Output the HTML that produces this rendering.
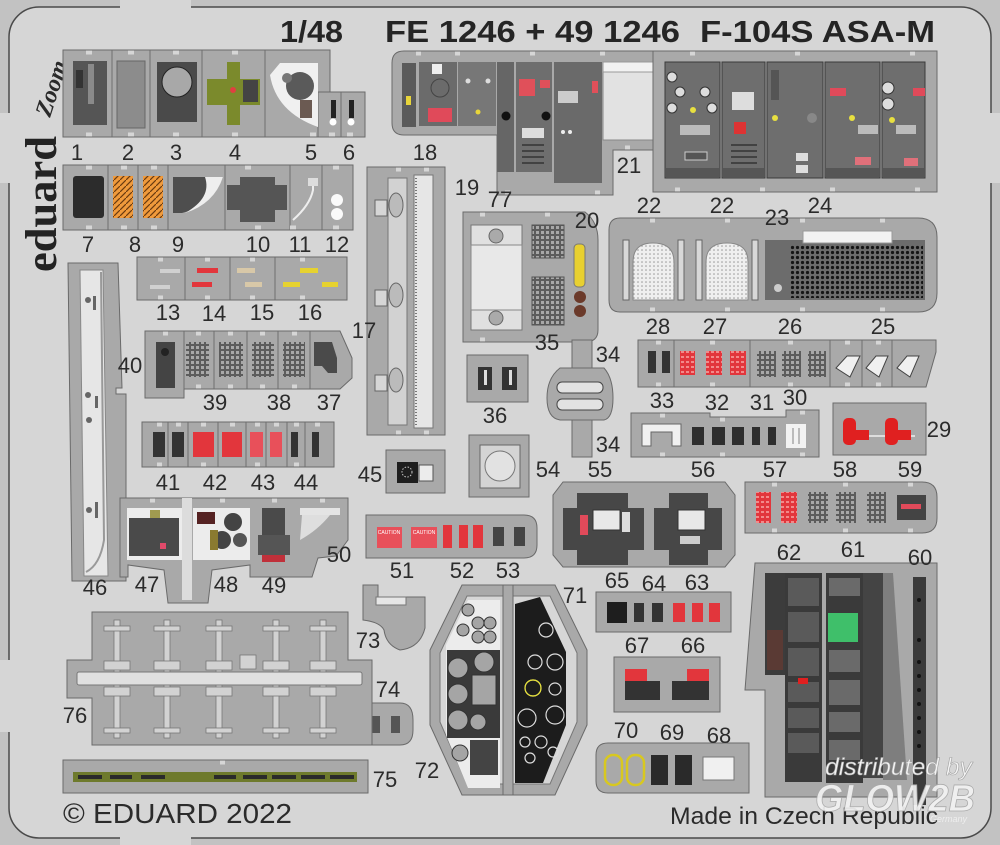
<!DOCTYPE html>
<html><head><meta charset="utf-8"><style>
html,body{margin:0;padding:0;background:#d6d6d6;}
svg{display:block}
.f{fill:#a9a9a9;stroke:#6a6a6a;stroke-width:1}
.t{font-family:"Liberation Sans",Arial,sans-serif;font-size:22px;fill:#2b2b2b;text-anchor:middle}
.d{fill:#505050}
.k{fill:#2e2e2e}
.r{fill:#e2363c}
.w{fill:#e8e8e8;stroke:#777;stroke-width:.8}
.sep{stroke:#6e6e6e;stroke-width:1}
.n{fill:#d6d6d6}
</style></head><body>
<svg width="1000" height="845" viewBox="0 0 1000 845" xmlns="http://www.w3.org/2000/svg">
<defs>
<pattern id="grid" width="5" height="5" patternUnits="userSpaceOnUse"><rect width="5" height="5" fill="#5c5c5c"/><rect x="1" y="1" width="3" height="3" fill="#a8a8a8"/></pattern>
<pattern id="rgrid" width="5" height="5" patternUnits="userSpaceOnUse"><rect width="5" height="5" fill="#e2363c"/><rect x="1" y="1" width="3" height="2" fill="#f28a8a"/></pattern>
<pattern id="dots" width="5" height="5" patternUnits="userSpaceOnUse"><rect width="5" height="5" fill="#6c6c6c"/><circle cx="2.5" cy="2.5" r="1.6" fill="#151515"/></pattern>
<pattern id="wdots" width="4" height="4" patternUnits="userSpaceOnUse"><rect width="4" height="4" fill="#efefef"/><circle cx="2" cy="2" r=".8" fill="#999"/></pattern>
<pattern id="orng" width="6" height="6" patternUnits="userSpaceOnUse"><rect width="6" height="6" fill="#f09a3c"/><path d="M0,6 L6,0" stroke="#6a3a10" stroke-width="1.2"/></pattern>
</defs>

<!-- fret frame -->
<rect width="1000" height="845" fill="#c2c2c2"/>
<rect x="9" y="7" width="982" height="831" rx="30" fill="#d6d6d6" stroke="#4a4a4a" stroke-width="1.5"/>
<rect x="120" y="0" width="71" height="9" fill="#d6d6d6"/>
<rect x="120" y="836" width="71" height="9" fill="#d6d6d6"/>
<rect x="0" y="113" width="10" height="70" fill="#d6d6d6"/>
<rect x="0" y="660" width="10" height="72" fill="#d6d6d6"/>
<rect x="990" y="113" width="10" height="70" fill="#d6d6d6"/>

<!-- title -->
<g font-family="Liberation Sans,Arial,sans-serif" font-weight="bold" font-size="31" fill="#252525">
<text x="280" y="42" textLength="63" lengthAdjust="spacingAndGlyphs">1/48</text>
<text x="385" y="42" textLength="295" lengthAdjust="spacingAndGlyphs">FE 1246 + 49 1246</text>
<text x="700" y="42" textLength="235" lengthAdjust="spacingAndGlyphs">F-104S ASA-M</text>
</g>

<!-- eduard logo -->
<text transform="translate(56,272) rotate(-90)" font-family="Liberation Serif,serif" font-weight="bold" font-size="44" textLength="136" lengthAdjust="spacingAndGlyphs" fill="#232323">eduard</text>
<text transform="translate(50,118) rotate(-72)" font-family="Liberation Serif,serif" font-style="italic" font-weight="bold" font-size="24" fill="#2a2a2a">Zoom</text>

<!-- Row 1: parts 1-6 -->
<rect class="f" x="63" y="50" width="267" height="87"/>
<rect class="f" x="318" y="92" width="47" height="45"/>
<g class="sep"><line x1="112" y1="50" x2="112" y2="137"/><line x1="150" y1="50" x2="150" y2="137"/><line x1="202" y1="50" x2="202" y2="137"/><line x1="265" y1="50" x2="265" y2="137"/><line x1="341" y1="92" x2="341" y2="137"/></g>
<g class="n"><rect x="86" y="50.5" width="6" height="4"/><rect x="128" y="50.5" width="6" height="4"/><rect x="173" y="50.5" width="6" height="4"/><rect x="232" y="50.5" width="6" height="4"/><rect x="86" y="132.5" width="6" height="4"/><rect x="128" y="132.5" width="6" height="4"/><rect x="173" y="132.5" width="6" height="4"/><rect x="232" y="132.5" width="6" height="4"/><rect x="310" y="132.5" width="6" height="4"/><rect x="329" y="132.5" width="6" height="4"/><rect x="347" y="132.5" width="6" height="4"/></g>
<rect x="73" y="61" width="34" height="64" fill="#555"/><rect x="88" y="64" width="6" height="40" fill="#8a8a8a"/><rect x="76" y="70" width="7" height="18" fill="#333"/>
<rect x="117" y="61" width="28" height="67" fill="#8c8c8c" stroke="#666"/>
<rect x="157" y="62" width="40" height="60" fill="#4a4a4a"/><circle cx="177" cy="82" r="15" fill="#a8a8a8" stroke="#222"/>
<rect x="227" y="62" width="13" height="63" fill="#7b8a2c"/><rect x="207" y="79" width="53" height="26" fill="#7b8a2c"/><rect x="243" y="80" width="15" height="22" fill="#444"/><circle cx="233" cy="90" r="3" fill="#e04040"/>
<path d="M280,63 L318,63 L318,127 Q276,112 270,75 Z" fill="#f0f0f0"/><circle cx="300" cy="86" r="14" fill="#5a5a5a"/><circle cx="287" cy="78" r="5" fill="#777"/><rect x="300" y="100" width="12" height="18" fill="#6b5a52"/>
<rect x="331" y="100" width="5" height="18" fill="#222"/><rect x="349" y="100" width="5" height="18" fill="#222"/><circle cx="333" cy="122" r="3.5" fill="#fff"/><circle cx="351" cy="122" r="3.5" fill="#fff"/>

<!-- Row 2: parts 7-12 -->
<rect class="f" x="63" y="165" width="290" height="65"/>
<g class="sep"><line x1="108" y1="165" x2="108" y2="230"/><line x1="138" y1="165" x2="138" y2="230"/><line x1="168" y1="165" x2="168" y2="230"/><line x1="225" y1="165" x2="225" y2="230"/><line x1="290" y1="165" x2="290" y2="230"/><line x1="322" y1="165" x2="322" y2="230"/></g>
<g class="n"><rect x="86" y="165.5" width="6" height="4"/><rect x="121" y="165.5" width="6" height="4"/><rect x="151" y="165.5" width="6" height="4"/><rect x="245" y="165.5" width="6" height="4"/><rect x="333" y="165.5" width="6" height="4"/><rect x="86" y="225.5" width="6" height="4"/><rect x="121" y="225.5" width="6" height="4"/><rect x="151" y="225.5" width="6" height="4"/><rect x="255" y="225.5" width="6" height="4"/><rect x="290" y="225.5" width="6" height="4"/><rect x="333" y="225.5" width="6" height="4"/></g>
<rect x="73" y="176" width="31" height="42" rx="3" fill="#2c2c2c"/>
<rect x="113" y="176" width="20" height="42" fill="url(#orng)"/><rect x="143" y="176" width="20" height="42" fill="url(#orng)"/>
<path d="M173,177 L223,177 Q212,206 182,213 L173,213 Z" fill="#4e4e4e"/><path d="M205,177 L223,177 Q214,204 185,213 Q212,198 205,177 Z" fill="#eeeeee"/>
<rect x="240" y="177" width="35" height="45" fill="#555"/><rect x="227" y="185" width="60" height="25" fill="#555"/>
<path d="M313,178 L313,190 Q310,205 293,220" stroke="#eee" stroke-width="2" fill="none"/><rect x="308" y="178" width="10" height="8" fill="#ddd"/>
<circle cx="337" cy="200" r="6" fill="#fafafa"/><circle cx="337" cy="214" r="6" fill="#fafafa"/>

<!-- Row 13-16 -->
<rect class="f" x="137" y="257" width="210" height="43"/>
<g class="sep"><line x1="185" y1="257" x2="185" y2="300"/><line x1="230" y1="257" x2="230" y2="300"/><line x1="275" y1="257" x2="275" y2="300"/></g>
<g class="n"><rect x="158" y="257.5" width="5" height="4"/><rect x="205" y="257.5" width="5" height="4"/><rect x="250" y="257.5" width="5" height="4"/><rect x="300" y="257.5" width="5" height="4"/><rect x="158" y="295.5" width="5" height="4"/><rect x="205" y="295.5" width="5" height="4"/><rect x="250" y="295.5" width="5" height="4"/><rect x="300" y="295.5" width="5" height="4"/></g>
<rect x="150" y="285" width="20" height="4" fill="#d0d0d0"/><rect x="160" y="269" width="20" height="4" fill="#d0d0d0"/>
<rect x="197" y="268" width="21" height="5" class="r"/><rect x="192" y="282" width="20" height="5" class="r"/>
<rect x="237" y="268" width="18" height="5" fill="#d8c8a8"/><rect x="245" y="282" width="17" height="5" fill="#d8c8a8"/>
<rect x="283" y="282" width="17" height="5" fill="#e6d230"/><rect x="300" y="268" width="18" height="5" fill="#e6d230"/><rect x="322" y="282" width="16" height="5" fill="#e6d230"/>

<!-- Row 37-40 -->
<polygon class="f" points="145,331 340,331 352,358 352,378 340,389 184,389 184,398 145,398"/>
<g class="sep"><line x1="184" y1="331" x2="184" y2="389"/><line x1="214" y1="331" x2="214" y2="389"/><line x1="247" y1="331" x2="247" y2="389"/><line x1="278" y1="331" x2="278" y2="389"/><line x1="310" y1="331" x2="310" y2="389"/></g>
<g class="n"><rect x="163" y="331.5" width="5" height="4"/><rect x="196" y="331.5" width="5" height="4"/><rect x="228" y="331.5" width="5" height="4"/><rect x="260" y="331.5" width="5" height="4"/><rect x="292" y="331.5" width="5" height="4"/><rect x="196" y="384.5" width="5" height="4"/><rect x="228" y="384.5" width="5" height="4"/><rect x="260" y="384.5" width="5" height="4"/><rect x="292" y="384.5" width="5" height="4"/></g>
<rect x="156" y="342" width="19" height="46" fill="#444"/><circle cx="165" cy="352" r="4" fill="#222"/>
<rect x="186" y="342" width="23" height="35" fill="url(#grid)"/><rect x="219" y="342" width="24" height="35" fill="url(#grid)"/>
<rect x="252" y="342" width="22" height="35" fill="url(#grid)"/><rect x="283" y="342" width="22" height="35" fill="url(#grid)"/>
<path d="M314,342 L332,342 L337,358 L337,373 L328,373 L322,366 L314,366 Z" fill="#4a4a4a"/>

<!-- Row 41-44 -->
<rect class="f" x="142" y="422" width="192" height="45"/>
<g class="sep"><line x1="168" y1="422" x2="168" y2="467"/><line x1="188" y1="422" x2="188" y2="467"/><line x1="218" y1="422" x2="218" y2="467"/><line x1="246" y1="422" x2="246" y2="467"/><line x1="266" y1="422" x2="266" y2="467"/><line x1="287" y1="422" x2="287" y2="467"/><line x1="305" y1="422" x2="305" y2="467"/></g>
<g class="n"><rect x="157" y="422.5" width="5" height="4"/><rect x="176" y="422.5" width="5" height="4"/><rect x="201" y="422.5" width="5" height="4"/><rect x="230" y="422.5" width="5" height="4"/><rect x="255" y="422.5" width="5" height="4"/><rect x="274" y="422.5" width="5" height="4"/><rect x="294" y="422.5" width="5" height="4"/><rect x="315" y="422.5" width="5" height="4"/><rect x="157" y="462.5" width="5" height="4"/><rect x="201" y="462.5" width="5" height="4"/><rect x="255" y="462.5" width="5" height="4"/><rect x="294" y="462.5" width="5" height="4"/></g>
<rect x="153" y="432" width="12" height="25" fill="#333"/><rect x="172" y="432" width="12" height="25" fill="#333"/>
<rect x="193" y="432" width="21" height="25" class="r"/><rect x="222" y="432" width="20" height="25" class="r"/>
<rect x="250" y="432" width="13" height="25" fill="#e8505a"/><rect x="270" y="432" width="12" height="25" fill="#e8505a"/>
<rect x="291" y="432" width="7" height="25" fill="#333"/><rect x="312" y="432" width="7" height="25" fill="#333"/>

<!-- Part 46 -->
<polygon class="f" points="68,263 118,263 122,388 116,388 116,394 126,394 126,581 72,581"/>
<polygon points="80,270 103,270 108,576 84,576" fill="#e6e6e6" stroke="#888"/>
<path d="M101,272 L104,540 Q100,565 86,572" stroke="#999" stroke-width="2" fill="none"/>
<circle cx="88" cy="300" r="3" fill="#666"/><rect x="93" y="296" width="3" height="14" fill="#666"/>
<circle cx="88" cy="395" r="3" fill="#666"/><circle cx="89" cy="420" r="3" fill="#666"/><rect x="95" y="396" width="3" height="12" fill="#666"/>
<circle cx="89" cy="510" r="3" fill="#666"/><rect x="95" y="502" width="3" height="16" fill="#666"/>

<!-- Cluster 47-50 -->
<polygon class="f" points="120,498 348,498 348,540 336,556 318,558 312,577 250,577 250,565 212,570 208,603 168,603 164,570 128,565 128,577 120,577"/>
<rect x="182" y="498" width="10" height="102" fill="#dcdcdc"/>
<g class="n"><rect x="150" y="498.5" width="5" height="4"/><rect x="220" y="498.5" width="5" height="4"/><rect x="272" y="498.5" width="5" height="4"/><rect x="320" y="498.5" width="5" height="4"/></g>
<rect x="127" y="508" width="55" height="52" fill="#ececec"/><rect x="129" y="518" width="50" height="38" fill="#4a4a4a"/><rect x="150" y="510" width="10" height="8" fill="#a09a50"/><rect x="160" y="543" width="6" height="6" fill="#e04a6a"/>
<rect x="193" y="508" width="57" height="52" fill="#ececec"/><circle cx="233" cy="522" r="9" fill="#444"/><circle cx="222" cy="540" r="9" fill="#444"/><circle cx="240" cy="540" r="7" fill="#555"/><rect x="197" y="512" width="18" height="12" fill="#552222"/><rect x="210" y="530" width="8" height="20" fill="#8a7a30"/>
<rect x="262" y="508" width="23" height="28" fill="#4a4a4a"/><rect x="258" y="535" width="32" height="20" fill="#555"/><rect x="262" y="555" width="23" height="7" fill="#c0303a"/>
<rect x="300" y="508" width="40" height="7" fill="#e4e4e4"/><path d="M302,515 L330,515 Q318,530 300,540 Z" fill="#dedede"/>

<!-- Part 17/18 -->
<rect class="f" x="367" y="167" width="78" height="268"/>
<rect x="388" y="178" width="19" height="247" fill="#d2d2d2" stroke="#777"/>
<rect x="414" y="175" width="19" height="253" fill="#e6e6e6" stroke="#777"/>
<line x1="416" y1="178" x2="416" y2="425" stroke="#777" stroke-width="2" stroke-dasharray="1,2"/>
<path d="M375,200 h12 v16 h-12 z M375,290 h12 v16 h-12 z M375,375 h12 v16 h-12 z" fill="#d6d6d6" stroke="#666"/>
<ellipse cx="396" cy="205" rx="7" ry="12" fill="#bbb" stroke="#666"/><ellipse cx="396" cy="295" rx="7" ry="12" fill="#bbb" stroke="#666"/><ellipse cx="396" cy="380" rx="7" ry="12" fill="#bbb" stroke="#666"/>
<g class="n"><rect x="396" y="167.5" width="5" height="4"/><rect x="424" y="167.5" width="5" height="4"/><rect x="396" y="430.5" width="5" height="4"/><rect x="424" y="430.5" width="5" height="4"/></g>

<!-- Top cluster 1 (19/77/21) -->
<path class="f" d="M404,51 H657 V150 H613 V195 H497 V135 H404 Q392,135 392,123 V63 Q392,51 404,51 Z"/>
<g class="n"><rect x="416" y="51.5" width="5" height="4"/><rect x="455" y="51.5" width="5" height="4"/><rect x="530" y="51.5" width="5" height="4"/><rect x="600" y="51.5" width="5" height="4"/><rect x="625" y="145.5" width="5" height="4"/><rect x="595" y="190.5" width="5" height="4"/><rect x="505" y="190.5" width="5" height="4"/></g>
<rect x="402" y="63" width="14" height="64" fill="#5a5a5a"/><rect x="406" y="96" width="5" height="9" fill="#e8d53a"/>
<rect x="419" y="62" width="38" height="64" fill="#6b6b6b"/><circle cx="440" cy="88" r="9" fill="none" stroke="#444"/><rect x="432" y="64" width="10" height="10" fill="#eee"/><rect x="428" y="108" width="24" height="14" fill="#e04a5a"/>
<rect x="458" y="62" width="38" height="64" fill="#777"/><circle cx="468" cy="81" r="2.5" fill="#ddd"/><circle cx="488" cy="81" r="2.5" fill="#ddd"/><circle cx="478" cy="112" r="2.5" fill="#e8d53a"/>
<rect x="497" y="62" width="17" height="110" fill="#666"/><circle cx="506" cy="116" r="4.5" fill="#111"/>
<rect x="516" y="62" width="36" height="110" fill="#6e6e6e"/><rect x="519" y="79" width="16" height="17" fill="#e0505a"/><rect x="540" y="80" width="10" height="8" fill="#e0505a"/><circle cx="546" cy="116" r="4.5" fill="#111"/><rect x="522" y="128" width="22" height="10" fill="#ddd"/>
<g stroke="#333" stroke-width="1.5"><line x1="522" y1="145" x2="544" y2="145"/><line x1="522" y1="151" x2="544" y2="151"/><line x1="522" y1="157" x2="544" y2="157"/><line x1="522" y1="163" x2="544" y2="163"/></g>
<rect x="554" y="62" width="48" height="121" fill="#6a6a6a"/><rect x="558" y="91" width="20" height="12" fill="#ccc"/><rect x="592" y="81" width="6" height="12" fill="#e0505a"/><circle cx="563" cy="132" r="2" fill="#eee"/><circle cx="570" cy="132" r="2" fill="#eee"/>
<rect x="603" y="62" width="50" height="78" fill="#e2e2e2" stroke="#888"/><rect x="603" y="62" width="50" height="10" fill="#f2f2f2" stroke="#999"/>

<!-- Top cluster 2 (24) -->
<rect class="f" x="653" y="51" width="284" height="141"/>
<g class="n"><rect x="690" y="51.5" width="5" height="4"/><rect x="795" y="51.5" width="5" height="4"/><rect x="910" y="51.5" width="5" height="4"/><rect x="675" y="187.5" width="5" height="4"/><rect x="760" y="187.5" width="5" height="4"/><rect x="830" y="187.5" width="5" height="4"/><rect x="915" y="187.5" width="5" height="4"/></g>
<g fill="#6e6e6e" stroke="#3a3a3a">
<rect x="665" y="62" width="55" height="116"/><rect x="722" y="62" width="43" height="116"/><rect x="767" y="62" width="56" height="116"/><rect x="825" y="62" width="55" height="116"/><rect x="882" y="62" width="43" height="116"/>
</g>
<g fill="#565656"><rect x="666" y="168" width="53" height="9"/><rect x="723" y="168" width="41" height="9"/><rect x="826" y="168" width="53" height="9"/><rect x="883" y="168" width="41" height="9"/></g>
<g fill="#ddd" stroke="#333"><circle cx="672" cy="77" r="5"/><circle cx="680" cy="92" r="5"/><circle cx="672" cy="108" r="5"/><circle cx="705" cy="92" r="5"/><circle cx="712" cy="108" r="5"/><circle cx="888" cy="88" r="6"/><circle cx="888" cy="104" r="6"/></g>
<rect x="680" y="125" width="30" height="10" fill="#bbb"/><rect x="685" y="152" width="22" height="8" fill="#555" stroke="#ccc"/>
<rect x="732" y="92" width="22" height="18" fill="#ddd"/><rect x="734" y="122" width="12" height="12" fill="#d33"/>
<g stroke="#333" stroke-width="1.5"><line x1="731" y1="145" x2="757" y2="145"/><line x1="731" y1="151" x2="757" y2="151"/><line x1="731" y1="157" x2="757" y2="157"/><line x1="731" y1="163" x2="757" y2="163"/></g>
<rect x="771" y="70" width="8" height="30" fill="#555"/><rect x="796" y="153" width="12" height="8" fill="#ddd"/><rect x="796" y="165" width="12" height="8" fill="#ddd"/><circle cx="812" cy="118" r="5" fill="#888"/>
<rect x="830" y="88" width="16" height="8" fill="#e04a5a"/><rect x="858" y="125" width="20" height="9" fill="#bbb"/><rect x="855" y="157" width="16" height="8" fill="#e0707a"/>
<rect x="913" y="88" width="12" height="8" fill="#e04a5a"/><rect x="896" y="125" width="20" height="9" fill="#bbb"/><rect x="904" y="158" width="14" height="8" fill="#e0707a"/>
<g fill="#e8e040"><circle cx="693" cy="110" r="3"/><circle cx="775" cy="118" r="3"/><circle cx="852" cy="118" r="3"/><circle cx="892" cy="120" r="3"/></g>

<!-- Part 20/35/77 -->
<path class="f" d="M463,212 H585 Q598,222 598,240 V330 Q598,342 585,342 H463 Z"/>
<g class="n"><rect x="480" y="212.5" width="5" height="4"/><rect x="545" y="212.5" width="5" height="4"/><rect x="480" y="337.5" width="5" height="4"/><rect x="545" y="337.5" width="5" height="4"/></g>
<rect x="471" y="225" width="51" height="105" fill="#e0e0e0" stroke="#777"/><rect x="471" y="245" width="51" height="65" fill="#e8e8e8" stroke="#888"/>
<circle cx="496" cy="236" r="7" fill="#aaa" stroke="#666"/><circle cx="496" cy="318" r="7" fill="#aaa" stroke="#666"/>
<rect x="532" y="225" width="32" height="33" fill="url(#grid)" stroke="#555"/><rect x="532" y="277" width="32" height="48" fill="url(#grid)" stroke="#555"/>
<rect x="574" y="244" width="11" height="43" rx="4" fill="#e8d030" stroke="#777"/>
<circle cx="580" cy="297" r="6" fill="#6b3a2a"/><circle cx="580" cy="311" r="6" fill="#6b3a2a"/>

<!-- Part 22/23 -->
<path class="f" d="M620,218 H918 Q937,218 937,237 V293 Q937,312 918,312 H620 Q609,312 609,300 V230 Q609,218 620,218 Z"/>
<g class="n"><rect x="650" y="218.5" width="5" height="4"/><rect x="725" y="218.5" width="5" height="4"/><rect x="800" y="218.5" width="5" height="4"/><rect x="880" y="218.5" width="5" height="4"/><rect x="650" y="307.5" width="5" height="4"/><rect x="725" y="307.5" width="5" height="4"/><rect x="800" y="307.5" width="5" height="4"/><rect x="880" y="307.5" width="5" height="4"/></g>
<path d="M633,300 V262 Q633,243 653,243 Q674,243 674,262 V300 Z" fill="url(#wdots)" stroke="#888"/>
<path d="M706,300 V262 Q706,243 727,243 Q748,243 748,262 V300 Z" fill="url(#wdots)" stroke="#888"/>
<g fill="#d8d8d8" stroke="#666"><rect x="623" y="240" width="6" height="60"/><rect x="678" y="240" width="6" height="60"/><rect x="696" y="240" width="6" height="60"/><rect x="752" y="240" width="6" height="60"/></g>
<rect x="765" y="240" width="160" height="60" fill="#6c6c6c"/><rect x="790" y="245" width="133" height="53" fill="url(#dots)"/>
<rect x="803" y="231" width="89" height="12" fill="#f2f2f2" stroke="#999"/><circle cx="778" cy="288" r="4" fill="#ccc"/>

<!-- Row 25-28 -->
<polygon class="f" points="638,340 936,340 936,352 926,387 638,387"/>
<g class="sep"><line x1="674" y1="340" x2="674" y2="387"/><line x1="750" y1="340" x2="750" y2="387"/><line x1="830" y1="340" x2="830" y2="387"/><line x1="862" y1="340" x2="862" y2="387"/><line x1="892" y1="340" x2="892" y2="387"/></g>
<g class="n"><rect x="656" y="340.5" width="5" height="4"/><rect x="710" y="340.5" width="5" height="4"/><rect x="788" y="340.5" width="5" height="4"/><rect x="845" y="340.5" width="5" height="4"/><rect x="876" y="340.5" width="5" height="4"/><rect x="656" y="382.5" width="5" height="4"/><rect x="710" y="382.5" width="5" height="4"/><rect x="788" y="382.5" width="5" height="4"/><rect x="845" y="382.5" width="5" height="4"/><rect x="876" y="382.5" width="5" height="4"/></g>
<rect x="648" y="351" width="8" height="22" fill="#333"/><rect x="662" y="351" width="8" height="22" fill="#333"/>
<rect x="680" y="351" width="15" height="24" fill="url(#rgrid)"/><rect x="706" y="351" width="16" height="24" fill="url(#rgrid)"/><rect x="730" y="351" width="16" height="24" fill="url(#rgrid)"/>
<rect x="757" y="351" width="19" height="26" fill="url(#grid)"/><rect x="782" y="351" width="19" height="26" fill="url(#grid)"/><rect x="808" y="351" width="18" height="26" fill="url(#grid)"/>
<g fill="#f0f0f0" stroke="#444"><polygon points="836,368 847,356 860,356 850,377"/><polygon points="866,368 876,356 888,356 879,377"/><polygon points="897,368 907,356 919,356 910,377"/></g>

<!-- Row 30-33 -->
<path class="f" d="M631,413 H710 V417 H786 V410 H819 V457 H631 Z"/>
<g class="n"><rect x="660" y="413.5" width="5" height="4"/><rect x="720" y="417.5" width="5" height="4"/><rect x="800" y="410.5" width="5" height="4"/><rect x="660" y="452.5" width="5" height="4"/><rect x="720" y="452.5" width="5" height="4"/><rect x="800" y="452.5" width="5" height="4"/></g>
<path d="M642,424 H681 V446 H672 V432 H651 V446 H642 Z" fill="#f0f0f0" stroke="#666"/>
<g fill="#2e2e2e"><rect x="692" y="427" width="12" height="18"/><rect x="712" y="427" width="13" height="18"/><rect x="732" y="427" width="12" height="18"/><rect x="752" y="427" width="8" height="18"/><rect x="768" y="427" width="8" height="18"/></g>
<rect x="786" y="424" width="20" height="24" fill="#f2f2f2"/><rect x="792" y="428" width="2" height="16" fill="#bbb"/><rect x="798" y="428" width="2" height="16" fill="#bbb"/>

<!-- 29 -->
<rect class="f" x="833" y="403" width="93" height="52"/>
<line x1="843" y1="436" x2="915" y2="436" stroke="#ddd" stroke-width="2"/>
<rect x="843" y="418" width="13" height="27" rx="5" fill="#e02020"/><rect x="850" y="430" width="19" height="10" fill="#e02020"/>
<rect x="885" y="418" width="13" height="27" rx="5" fill="#e02020"/><rect x="892" y="430" width="19" height="10" fill="#e02020"/>

<!-- 34 -->
<rect class="f" x="572" y="340" width="20" height="117"/>
<path class="f" d="M560,368 H604 Q613,378 613,398 Q613,418 604,420 H560 Q547,418 547,398 Q547,378 560,368 Z"/>
<rect x="557" y="382" width="46" height="11" rx="5" fill="#e2e2e2" stroke="#444"/><rect x="557" y="399" width="46" height="11" rx="5" fill="#e2e2e2" stroke="#444"/>

<!-- 36 -->
<rect class="f" x="467" y="355" width="61" height="47"/>
<rect x="478" y="367" width="14" height="23" fill="#333"/><rect x="484" y="370" width="3" height="15" fill="#ddd"/>
<rect x="502" y="367" width="15" height="23" fill="#333"/><rect x="509" y="370" width="3" height="15" fill="#ddd"/>

<!-- 54 -->
<rect class="f" x="469" y="435" width="60" height="62"/>
<rect x="480" y="445" width="40" height="43" fill="#d4d4d4" stroke="#666"/><circle cx="500" cy="466" r="15" fill="#e2e2e2" stroke="#777"/>

<!-- 45 -->
<rect class="f" x="386" y="450" width="59" height="43"/>
<rect x="397" y="462" width="21" height="21" fill="#1e1e1e"/><circle cx="407" cy="472" r="5" fill="none" stroke="#ccc" stroke-dasharray="1.5,1.5"/>
<rect x="419" y="465" width="14" height="16" fill="#ececec" stroke="#555"/>

<!-- 55/56 -->
<polygon class="f" points="563,482 725,482 735,495 735,555 725,567 563,567 553,555 553,495"/>
<rect x="577" y="493" width="51" height="72" fill="#474747"/><rect x="563" y="508" width="81" height="42" fill="#474747"/>
<rect x="593" y="510" width="27" height="20" fill="#e8e8e8" stroke="#333"/><rect x="580" y="515" width="8" height="20" fill="#e04a5a"/><rect x="622" y="512" width="8" height="20" fill="#ddd"/>
<rect x="669" y="493" width="39" height="72" fill="#474747"/><rect x="654" y="508" width="68" height="42" fill="#474747"/>
<rect x="678" y="510" width="27" height="20" fill="#e8e8e8" stroke="#333"/><rect x="680" y="536" width="20" height="8" fill="#ccc"/>

<!-- 57-59 -->
<path class="f" d="M745,482 H922 Q937,482 937,497 V518 Q937,533 922,533 H745 Z"/>
<g class="n"><rect x="772" y="482.5" width="5" height="4"/><rect x="843" y="482.5" width="5" height="4"/><rect x="908" y="482.5" width="5" height="4"/><rect x="772" y="528.5" width="5" height="4"/><rect x="843" y="528.5" width="5" height="4"/><rect x="908" y="528.5" width="5" height="4"/></g>
<rect x="756" y="492" width="15" height="31" fill="url(#rgrid)"/><rect x="781" y="492" width="16" height="31" fill="url(#rgrid)"/>
<rect x="808" y="492" width="20" height="31" fill="url(#grid)"/><rect x="836" y="492" width="20" height="31" fill="url(#grid)"/><rect x="867" y="492" width="19" height="31" fill="url(#grid)"/>
<rect x="897" y="495" width="29" height="25" fill="#444"/><rect x="901" y="504" width="20" height="5" fill="#e04a5a"/>

<!-- 51-53 -->
<path class="f" d="M366,515 H524 Q537,515 537,528 V545 Q537,558 524,558 H366 Z"/>
<rect x="377" y="527" width="25" height="21" fill="#e8505a"/><rect x="411" y="527" width="26" height="21" fill="#e8505a"/>
<text x="389" y="534" font-family="Liberation Sans,sans-serif" font-size="5" fill="#fff" text-anchor="middle">CAUTION</text>
<text x="424" y="534" font-family="Liberation Sans,sans-serif" font-size="5" fill="#fff" text-anchor="middle">CAUTION</text>
<rect x="443" y="525" width="9" height="23" class="r"/><rect x="459" y="525" width="9" height="23" class="r"/><rect x="473" y="525" width="10" height="23" class="r"/>
<rect x="493" y="527" width="11" height="19" fill="#444"/><rect x="514" y="527" width="11" height="19" fill="#444"/>

<!-- 60-62 -->
<polygon class="f" points="755,563 937,563 937,797 765,797 765,690 745,690"/>
<rect x="765" y="573" width="20" height="102" fill="#3c3c3c"/><rect x="767" y="630" width="16" height="40" fill="#5a3a34"/>
<rect x="785" y="573" width="37" height="209" fill="#3a3a3a"/>
<g fill="#5a5a5a"><rect x="788" y="578" width="31" height="28"/><rect x="788" y="612" width="31" height="30"/><rect x="788" y="648" width="31" height="28"/><rect x="788" y="682" width="31" height="20"/><rect x="788" y="708" width="31" height="20"/><rect x="788" y="733" width="31" height="20"/></g>
<rect x="798" y="678" width="10" height="6" fill="#e02020"/>
<rect x="826" y="573" width="37" height="210" fill="#3a3a3a"/>
<rect x="828" y="613" width="30" height="29" fill="#3fbf6a"/>
<g fill="#6a6a6a"><rect x="829" y="578" width="31" height="18"/><rect x="829" y="650" width="31" height="22"/><rect x="829" y="680" width="31" height="25"/><rect x="829" y="712" width="31" height="20"/><rect x="829" y="740" width="31" height="20"/></g>
<rect x="863" y="573" width="20" height="205" fill="#444"/>
<polygon points="883,573 893,573 907,780 883,780" fill="#7e7e7e"/>
<rect x="913" y="577" width="13" height="228" fill="#3a3a3a"/>
<g fill="#111"><circle cx="919" cy="600" r="2"/><circle cx="919" cy="640" r="2"/><circle cx="919" cy="662" r="2"/><circle cx="919" cy="676" r="2"/><circle cx="919" cy="690" r="2"/><circle cx="919" cy="704" r="2"/><circle cx="919" cy="718" r="2"/><circle cx="919" cy="732" r="2"/><circle cx="919" cy="746" r="2"/></g>

<!-- 63-65 -->
<rect class="f" x="596" y="592" width="135" height="40"/>
<rect x="607" y="602" width="20" height="21" fill="#1e1e1e"/>
<rect x="634" y="603" width="10" height="19" fill="#333"/><rect x="652" y="603" width="11" height="19" fill="#333"/>
<rect x="673" y="603" width="12" height="19" class="r"/><rect x="692" y="603" width="11" height="19" class="r"/><rect x="709" y="603" width="11" height="19" class="r"/>

<!-- 66-67 -->
<rect class="f" x="614" y="657" width="106" height="55"/>
<rect x="625" y="669" width="22" height="12" class="r"/><rect x="625" y="681" width="35" height="19" fill="#333"/>
<rect x="687" y="669" width="22" height="12" class="r"/><rect x="672" y="681" width="37" height="19" fill="#333"/>

<!-- 68-70 -->
<path class="f" d="M608,743 H749 V793 H608 Q596,793 596,781 V755 Q596,743 608,743 Z"/>
<rect x="605" y="755" width="17" height="30" rx="8" fill="none" stroke="#d8c820" stroke-width="2.5"/>
<rect x="627" y="755" width="17" height="30" rx="8" fill="none" stroke="#d8c820" stroke-width="2.5"/>
<rect x="651" y="755" width="17" height="30" fill="#2a2a2a"/><rect x="675" y="755" width="17" height="30" fill="#2a2a2a"/>
<rect x="703" y="757" width="31" height="23" fill="#f0f0f0" stroke="#777"/>

<!-- 71/72 octagon -->
<polygon class="f" points="462,585 555,585 587,650 587,725 555,795 462,795 430,725 430,650"/>
<polygon points="467,596 550,596 577,653 577,722 550,784 467,784 440,722 440,653" fill="#d6d6d6" stroke="#777"/>
<rect class="f" x="503" y="585" width="10" height="210"/>
<polygon points="468,600 500,600 500,788 468,788 446,735 446,645" fill="#ececec"/>
<rect x="447" y="650" width="53" height="88" fill="#3a3a3a"/>
<g fill="#a5a5a5" stroke="#333"><circle cx="458" cy="668" r="10"/><circle cx="458" cy="694" r="10"/><circle cx="458" cy="720" r="10"/><rect x="472" y="675" width="24" height="30"/><circle cx="484" cy="662" r="10"/><circle cx="478" cy="722" r="8"/><circle cx="468" cy="610" r="6"/><circle cx="478" cy="623" r="6"/><circle cx="490" cy="623" r="6"/><circle cx="478" cy="637" r="6"/><circle cx="490" cy="637" r="6"/><circle cx="463" cy="630" r="6"/><circle cx="460" cy="753" r="8"/></g>
<rect x="470" y="740" width="28" height="35" fill="#444"/>
<polygon points="515,604 540,597 566,652 566,725 543,783 515,783" fill="#1c1c1c"/>
<g fill="none" stroke="#ddd" stroke-width="1.2"><circle cx="546" cy="630" r="7"/><circle cx="535" cy="662" r="7"/><circle cx="555" cy="662" r="8"/><circle cx="533" cy="688" r="8"/><circle cx="555" cy="689" r="6"/><circle cx="527" cy="718" r="9"/><circle cx="555" cy="715" r="9"/><circle cx="541" cy="742" r="6"/><circle cx="525" cy="742" r="5"/><circle cx="530" cy="758" r="5"/><circle cx="553" cy="752" r="5"/></g>
<circle cx="533" cy="688" r="8" fill="none" stroke="#e6e030" stroke-width="1.2"/>

<!-- 73 -->
<path class="f" d="M363,585 H378 V597 H425 V628 Q420,648 400,650 Q386,645 384,630 Q380,622 363,620 Z"/>
<rect x="376" y="597" width="30" height="8" fill="#e6e6e6" stroke="#777"/>

<!-- 74 -->
<path class="f" d="M368,703 H400 Q413,703 413,720 V730 Q413,745 400,745 H368 Z"/>
<rect x="371" y="716" width="9" height="17" fill="#555"/><rect x="391" y="716" width="9" height="17" fill="#555"/>

<!-- 76 -->
<path class="f" d="M92,612 H348 V660 H372 V745 H92 V698 H67 V660 H92 Z"/>
<g fill="#d2d2d2" stroke="#777" stroke-width=".8">
<rect x="114" y="620" width="6" height="118"/><rect x="164" y="620" width="6" height="118"/><rect x="216" y="620" width="6" height="118"/><rect x="273" y="620" width="6" height="118"/><rect x="320" y="620" width="6" height="118"/>
<rect x="104" y="626" width="26" height="5"/><rect x="154" y="626" width="26" height="5"/><rect x="206" y="626" width="26" height="5"/><rect x="263" y="626" width="26" height="5"/><rect x="310" y="626" width="26" height="5"/>
<rect x="104" y="728" width="26" height="5"/><rect x="154" y="728" width="26" height="5"/><rect x="206" y="728" width="26" height="5"/><rect x="263" y="728" width="26" height="5"/><rect x="310" y="728" width="26" height="5"/>
<rect x="104" y="661" width="26" height="9"/><rect x="154" y="661" width="26" height="9"/><rect x="206" y="661" width="26" height="9"/><rect x="263" y="661" width="26" height="9"/><rect x="310" y="661" width="26" height="9"/>
<rect x="104" y="687" width="26" height="9"/><rect x="154" y="687" width="26" height="9"/><rect x="206" y="687" width="26" height="9"/><rect x="263" y="687" width="26" height="9"/><rect x="310" y="687" width="26" height="9"/>
<rect x="240" y="655" width="16" height="14"/>
</g>
<rect x="77" y="672" width="285" height="13" rx="2" fill="#e0e0e0" stroke="#777"/>

<!-- 75 -->
<rect class="f" x="63" y="760" width="305" height="33"/>
<rect x="220" y="760.5" width="5" height="4" class="n"/>
<rect x="73" y="772" width="284" height="10" fill="#6e7a2c"/>
<g fill="#2a2a2a"><rect x="78" y="775" width="24" height="4"/><rect x="110" y="775" width="22" height="4"/><rect x="141" y="775" width="24" height="4"/><rect x="214" y="775" width="22" height="4"/><rect x="243" y="775" width="24" height="4"/><rect x="272" y="775" width="24" height="4"/><rect x="301" y="775" width="24" height="4"/><rect x="330" y="775" width="24" height="4"/></g>

<!-- labels -->
<g class="t">
<text x="77" y="160">1</text><text x="128" y="160">2</text><text x="176" y="160">3</text><text x="235" y="160">4</text><text x="311" y="160">5</text><text x="349" y="160">6</text>
<text x="88" y="252">7</text><text x="135" y="252">8</text><text x="178" y="252">9</text><text x="258" y="252">10</text><text x="300" y="252">11</text><text x="337" y="252">12</text>
<text x="168" y="320">13</text><text x="214" y="321">14</text><text x="262" y="320">15</text><text x="310" y="320">16</text>
<text x="364" y="338">17</text><text x="425" y="160">18</text><text x="467" y="195">19</text><text x="500" y="207">77</text><text x="587" y="228">20</text><text x="629" y="173">21</text>
<text x="649" y="213">22</text><text x="722" y="213">22</text><text x="777" y="225">23</text><text x="820" y="213">24</text>
<text x="883" y="334">25</text><text x="790" y="334">26</text><text x="715" y="334">27</text><text x="658" y="334">28</text>
<text x="939" y="437">29</text><text x="795" y="405">30</text><text x="762" y="410">31</text><text x="717" y="410">32</text><text x="662" y="408">33</text>
<text x="608" y="362">34</text><text x="608" y="452">34</text><text x="547" y="350">35</text><text x="495" y="423">36</text>
<text x="329" y="410">37</text><text x="279" y="410">38</text><text x="215" y="410">39</text><text x="130" y="373">40</text>
<text x="168" y="490">41</text><text x="215" y="490">42</text><text x="263" y="490">43</text><text x="306" y="490">44</text><text x="370" y="482">45</text>
<text x="95" y="595">46</text><text x="147" y="592">47</text><text x="226" y="592">48</text><text x="274" y="593">49</text><text x="339" y="562">50</text>
<text x="402" y="578">51</text><text x="462" y="578">52</text><text x="508" y="578">53</text><text x="548" y="477">54</text>
<text x="600" y="477">55</text><text x="703" y="477">56</text><text x="775" y="477">57</text><text x="845" y="477">58</text><text x="910" y="477">59</text>
<text x="920" y="565">60</text><text x="853" y="557">61</text><text x="789" y="560">62</text>
<text x="697" y="590">63</text><text x="654" y="591">64</text><text x="617" y="588">65</text><text x="693" y="653">66</text><text x="637" y="653">67</text>
<text x="719" y="743">68</text><text x="672" y="740">69</text><text x="626" y="738">70</text><text x="575" y="603">71</text><text x="427" y="778">72</text>
<text x="368" y="648">73</text><text x="388" y="697">74</text><text x="385" y="787">75</text><text x="75" y="723">76</text>
</g>

<!-- footer texts -->
<text x="63" y="823" font-family="Liberation Sans,Arial,sans-serif" font-size="28" fill="#2b2b2b" textLength="229" lengthAdjust="spacingAndGlyphs">© EDUARD 2022</text>
<text x="670" y="824" font-family="Liberation Sans,Arial,sans-serif" font-size="24" fill="#2b2b2b" textLength="268" lengthAdjust="spacingAndGlyphs">Made in Czech Republic</text>

<!-- watermark -->
<text x="825" y="775" font-family="Liberation Sans,Arial,sans-serif" font-style="italic" font-size="24" fill="#f4f4f4" stroke="#a0a0a0" stroke-width=".6" textLength="147" lengthAdjust="spacingAndGlyphs">distributed by</text>
<text x="815" y="811" font-family="Liberation Sans,Arial,sans-serif" font-style="italic" font-weight="bold" font-size="38" fill="#f2f2f2" stroke="#a8a8a8" stroke-width=".8" textLength="160" lengthAdjust="spacingAndGlyphs" opacity=".92">GLOW2B</text>
<text x="930" y="822" font-family="Liberation Sans,Arial,sans-serif" font-style="italic" font-size="9" fill="#eee">Germany</text>
</svg>
</body></html>
